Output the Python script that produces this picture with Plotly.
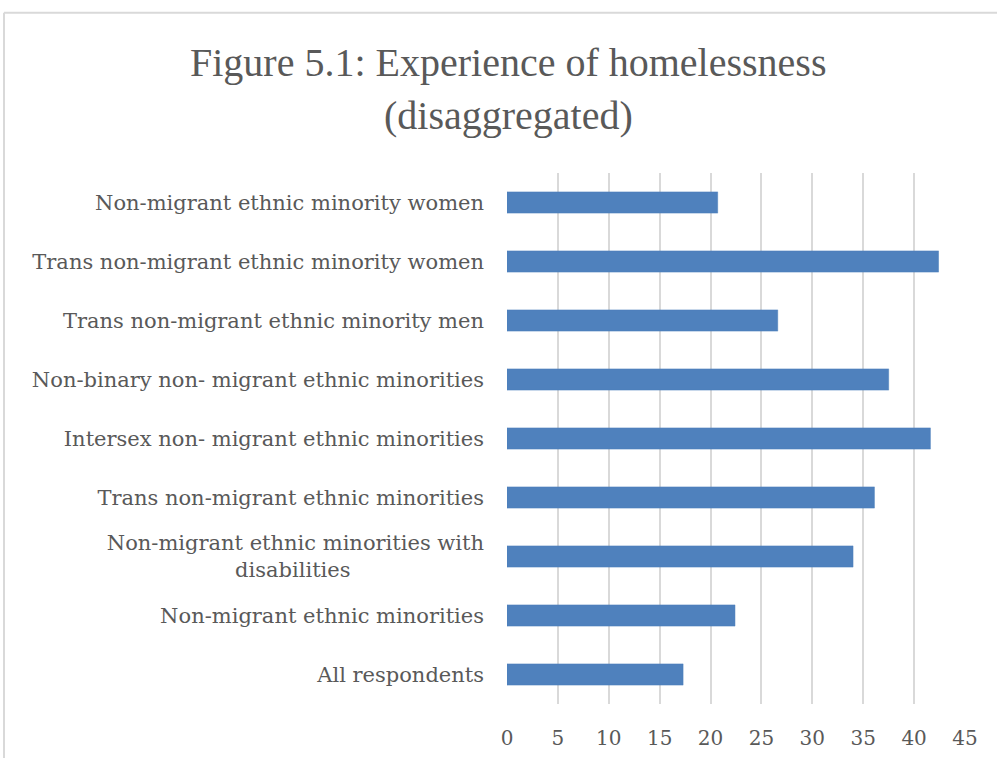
import plotly.graph_objects as go

categories = [
    "All respondents",
    "Non-migrant ethnic minorities",
    "Non-migrant ethnic minorities with<br>disabilities" + "\u00a0" * 20,
    "Trans non-migrant ethnic minorities",
    "Intersex non- migrant ethnic minorities",
    "Non-binary non- migrant ethnic minorities",
    "Trans non-migrant ethnic minority men",
    "Trans non-migrant ethnic minority women",
    "Non-migrant ethnic minority women",
]
values = [17.3, 22.4, 34.0, 36.1, 41.6, 37.5, 26.6, 42.4, 20.7]
x_ticks = [0, 5, 10, 15, 20, 25, 30, 35, 40, 45]
title_lines = ["Figure 5.1: Experience of homelessness", "(disaggregated)"]

W, H = 997, 758
L, R, T, B = 507, 965, 172.5, 704.5


def px_to_paper_x(px):
    return (px - L) / (R - L)


def px_to_paper_y(py):
    return (B - py) / (B - T)


fig = go.Figure(go.Bar(
    y=categories, x=values, orientation="h",
    marker=dict(color="#4F81BD", line=dict(color="#4A7EBB", width=0.5)),
))

fig.update_layout(
    width=W, height=H,
    margin=dict(l=L, r=W - R, t=T, b=H - B, autoexpand=False),
    paper_bgcolor="white", plot_bgcolor="white",
    bargap=0.64,
    showlegend=False,
    font=dict(family="DejaVu Serif", color="#595959", size=20),
    xaxis=dict(
        range=[0, 45], tickvals=x_ticks, showgrid=True,
        gridcolor="#D9D9D9", gridwidth=1.5, zeroline=False,
        showline=False, ticks="", ticklabelstandoff=20, automargin=False,
        tickfont=dict(family="DejaVu Serif", size=20, color="#595959"),
    ),
    yaxis=dict(
        showgrid=False, zeroline=False, showline=False, ticks="",
        ticklabelstandoff=22, automargin=False,
        tickfont=dict(family="DejaVu Serif", size=21, color="#595959"),
    ),
)

for txt, ymid in zip(title_lines, [62, 115]):
    fig.add_annotation(
        text=txt, showarrow=False,
        xref="paper", yref="paper",
        x=px_to_paper_x(508), y=px_to_paper_y(ymid),
        xanchor="center", yanchor="middle",
        font=dict(family="Liberation Serif", size=40, color="#595959"),
    )

# outer chart border (left and top edges visible)
fig.add_shape(type="line", xref="paper", yref="paper",
              x0=px_to_paper_x(4), x1=px_to_paper_x(4),
              y0=px_to_paper_y(12), y1=px_to_paper_y(760),
              line=dict(color="#D9D9D9", width=2))
fig.add_shape(type="line", xref="paper", yref="paper",
              x0=px_to_paper_x(4), x1=px_to_paper_x(1000),
              y0=px_to_paper_y(12), y1=px_to_paper_y(12),
              line=dict(color="#D9D9D9", width=2))

fig.write_html("out.html")
